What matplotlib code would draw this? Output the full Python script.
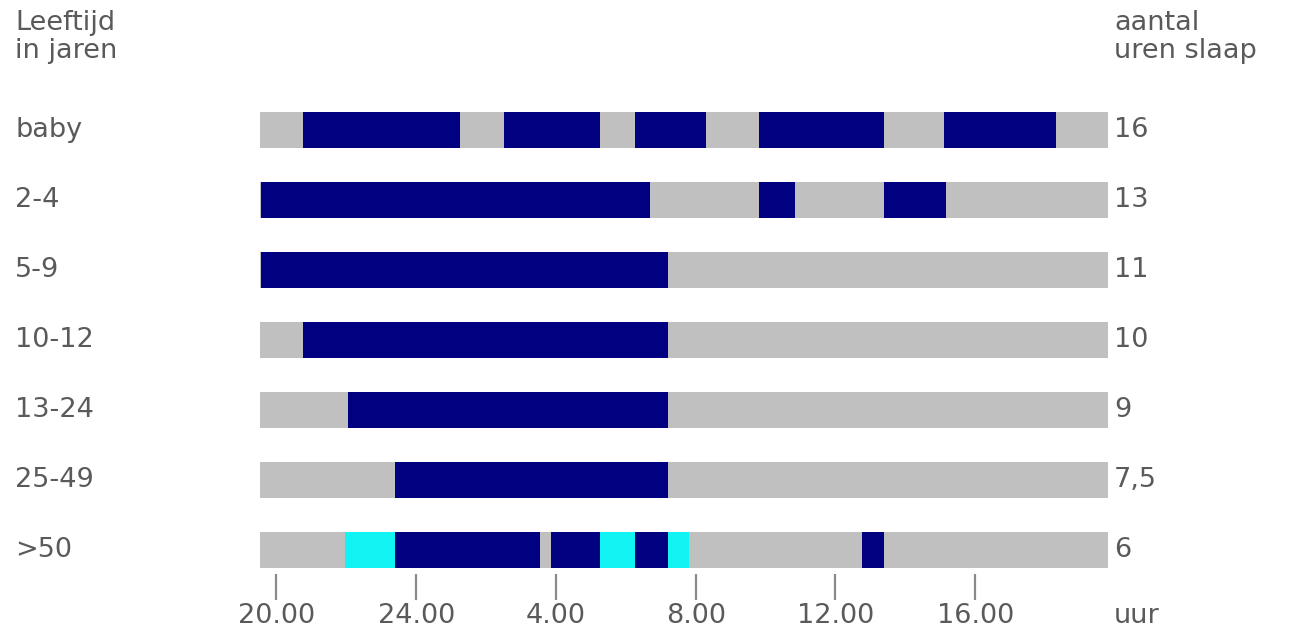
import matplotlib
matplotlib.use("Agg")
import matplotlib.pyplot as plt
import matplotlib.transforms as mtrans

# ---- data ----
age_groups = ["baby", "2-4", "5-9", "10-12", "13-24", "25-49", ">50"]
sleep_labels = ["16", "13", "11", "10", "9", "7,5", "6"]

# clock hours; values > 24 belong to the next day
day_start = 19.53
day_end = 43.8

deep_sleep = [
    [(20.75, 25.25), (26.5, 29.25), (30.25, 32.3), (33.8, 37.4), (39.1, 42.3)],
    [(19.55, 30.7), (33.8, 34.85), (37.4, 39.15)],
    [(19.55, 31.2)],
    [(20.75, 31.2)],
    [(22.05, 31.2)],
    [(23.4, 31.2)],
    [(23.4, 27.55), (27.85, 29.25), (30.25, 31.2), (36.75, 37.4)],
]
light_sleep = [
    [], [], [], [], [], [],
    [(21.95, 23.4), (29.25, 30.25), (31.2, 31.8)],
]

tick_hours = [20, 24, 28, 32, 36, 40]
tick_labels = ["20.00", "24.00", "4.00", "8.00", "12.00", "16.00"]

# ---- style ----
W, H = 1291, 633
NAVY = "#000080"
GREY = "#c0c0c0"
CYAN = "#12f4f4"
TXT = "#5a5a5a"
FS = 19.5
plt.rcParams["font.family"] = ["DejaVu Sans"]

fig = plt.figure(figsize=(W / 100, H / 100), dpi=100)
fig.patch.set_facecolor("white")

# axes mapping: px = 276.4 + 34.94*(h-20)
x0h, x1h = 19.0, 45.0
px_l = 276.4 + 34.94 * (x0h - 20)
px_r = 276.4 + 34.94 * (x1h - 20)
top_px, bot_px = 95, 574
ax = fig.add_axes([px_l / W, 1 - bot_px / H, (px_r - px_l) / W, (bot_px - top_px) / H])
ax.set_xlim(x0h, x1h)
ax.set_ylim(6 + 24 / 70, -0.5)
ax.set_facecolor("none")
for s in ax.spines.values():
    s.set_visible(False)

bh = 36 / 70
for i in range(len(age_groups)):
    ax.barh(i, day_end - day_start, left=day_start, height=bh, color=GREY, lw=0)
    for a, b in light_sleep[i]:
        ax.barh(i, b - a, left=a, height=bh, color=CYAN, lw=0)
    for a, b in deep_sleep[i]:
        ax.barh(i, b - a, left=a, height=bh, color=NAVY, lw=0)

ax.set_yticks([])
ax.set_xticks(tick_hours)
ax.set_xticklabels(tick_labels, fontsize=FS, color=TXT)
ax.tick_params(axis="x", direction="out", length=19, width=1.6, color="#8a8a8a", pad=2)

# row labels (x in pixels, y in data rows)
tr_row = mtrans.blended_transform_factory(
    mtrans.Affine2D().scale(1 / W, 1) + fig.transFigure, ax.transData)
for i, g in enumerate(age_groups):
    fig.text(15, i, g, transform=tr_row, fontsize=FS, color=TXT, va="center", ha="left")
    fig.text(1114, i, sleep_labels[i], transform=tr_row, fontsize=FS, color=TXT,
             va="center", ha="left")

fig.text(15 / W, 1 - 10 / H, "Leeftijd\nin jaren", fontsize=FS, color=TXT,
         va="top", ha="left", linespacing=1.1)
fig.text(1114 / W, 1 - 10 / H, "aantal\nuren slaap", fontsize=FS, color=TXT,
         va="top", ha="left", linespacing=1.1)
fig.text(1114 / W, 1 - 603 / H, "uur", fontsize=FS, color=TXT, va="top", ha="left")

fig.savefig("out.png", dpi=100, facecolor="white")
